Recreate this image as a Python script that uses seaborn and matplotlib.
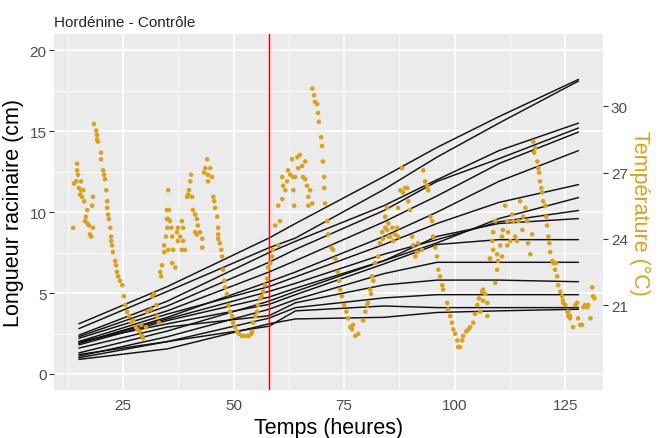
import pandas as pd
import matplotlib
matplotlib.use("Agg")
import matplotlib.pyplot as plt
import seaborn as sns

# root length measurements (cm), one row per plant, at the measurement times (h)
mesure_t = [15, 35, 58, 64, 84, 96, 110, 128]
longueurs = [
    [3.1, 5.4, 8.4, 9.3, 12.2, 14.0, 15.9, 18.2],
    [2.8, 5.1, 7.8, 8.4, 11.4, 13.4, 15.5, 18.1],
    [2.4, 4.5, 7.5, 8.2, 10.4, 12.0, 13.8, 15.5],
    [2.3, 4.2, 6.9, 7.7, 10.1, 11.9, 13.3, 15.2],
    [2.2, 3.9, 6.3, 7.0, 9.4, 11.0, 13.0, 14.95],
    [1.9, 3.5, 5.7, 6.3, 8.5, 10.0, 11.9, 13.8],
    [2.0, 3.7, 5.4, 6.0, 8.0, 9.3, 10.6, 11.7],
    [1.3, 2.65, 4.5, 5.1, 7.0, 8.1, 9.6, 10.9],
    [1.9, 3.4, 5.1, 5.6, 7.4, 8.3, 9.4, 10.1],
    [1.8, 3.3, 4.75, 5.3, 7.0, 8.5, 9.3, 9.6],
    [2.0, 3.1, 4.3, 4.9, 6.8, 8.0, 8.3, 8.3],
    [1.1, 2.3, 4.0, 4.6, 6.2, 6.9, 6.9, 6.9],
    [1.6, 2.9, 3.6, 4.4, 5.5, 5.8, 5.8, 5.7],
    [1.0, 2.0, 3.45, 4.1, 4.7, 4.9, 4.9, 4.9],
    [1.2, 2.0, 2.95, 3.9, 4.2, 4.1, 4.1, 4.1],
    [0.9, 1.55, 3.1, 3.4, 3.5, 3.8, 3.9, 4.0],
]

# temperature log (h, degC)
temp_h = [
    13.7, 13.9, 14.4, 14.6, 14.6, 14.8, 15.0, 15.3, 15.5, 15.5, 16.0, 15.7, 16.2, 16.6, 16.4, 16.9, 16.9, 17.3,
    17.5, 17.8, 18.0, 18.2, 18.2,
    18.4, 18.9, 19.1, 19.1, 19.3, 20.0, 20.0, 20.5, 20.7, 20.9, 21.2, 21.4, 21.4, 21.6, 21.8, 22.1, 22.3, 22.3,
    22.5, 22.7, 23.2, 23.4, 23.6, 23.9, 24.3, 24.8, 25.2, 25.5, 25.9, 26.4, 26.8, 27.3, 27.9, 28.2, 28.8, 29.3,
    29.5, 29.1, 30.2, 30.4, 31.3, 31.6, 32.0, 32.5, 32.7, 33.1, 33.6, 33.4, 33.8, 34.3, 34.3, 34.7, 34.9, 34.9,
    35.2,
    35.4, 35.2, 35.6, 35.0, 35.9, 36.1, 35.2, 36.1, 36.8, 36.3, 37.2, 37.4, 37.9, 37.4, 38.3, 38.6, 38.6, 39.0,
    38.3, 39.5, 39.7, 39.9, 40.2, 40.4, 40.6, 40.8, 41.3, 41.7, 41.9, 41.3, 41.7, 42.4, 42.9, 42.9, 43.3, 43.6,
    44.0, 44.2, 44.7, 44.2, 45.1,
    45.4, 45.6, 45.8, 46.3, 46.5, 46.5, 46.5, 46.9, 47.2, 47.4, 47.6, 47.9, 48.1, 48.5, 48.8, 49.2, 49.7, 49.9,
    50.3, 50.8, 51.2, 51.9, 52.4, 53.1, 53.5, 54.0, 54.2, 54.4, 54.9, 55.3, 55.5, 56.0, 56.4, 56.7, 57.1, 57.6,
    57.8, 58.3, 58.7, 58.9,
    60.1, 59.4, 60.5, 60.1, 61.0, 61.2, 61.7, 61.0, 62.1, 62.3, 62.8, 63.2, 63.5, 63.9, 63.5, 64.4, 64.6, 65.0,
    65.5, 65.7, 66.2, 66.2, 66.6, 66.9, 67.3, 66.9, 67.8, 63.7,
    67.8, 68.2, 68.4, 68.9, 69.1, 69.3, 69.8, 70.0, 70.2, 70.5, 70.5, 70.7, 71.2, 71.4, 72.1, 72.5, 73.0, 73.6,
    73.9, 74.1, 74.5, 75.0, 75.5, 75.9, 76.4, 77.0, 76.8, 77.5, 78.2,
    79.3, 79.8, 80.2, 80.4, 80.9, 81.1, 81.3, 81.6, 82.0, 82.7, 83.1, 83.6, 83.8, 84.3, 84.7, 85.0, 85.4, 85.9,
    86.1, 86.5, 87.0, 87.2, 84.3, 84.7, 85.0, 87.2, 87.7, 88.1, 88.3, 88.8, 89.3, 89.5, 89.9, 90.4, 90.6, 91.1,
    91.5, 91.7, 92.6, 92.9, 93.3, 93.8, 94.0, 94.5, 94.9, 95.1, 95.6, 96.0, 96.3, 96.7, 97.2,
    97.4, 98.3, 98.5, 99.0, 99.4, 99.7, 100.1, 100.6, 100.8, 101.2, 101.7, 101.9, 102.6, 103.1, 103.5, 104.2,
    104.6, 105.1, 105.5, 106.2, 106.4, 106.9, 107.4, 107.4, 105.8, 106.4, 108.0, 108.7,
    108.5, 108.0, 108.7, 109.2, 109.6, 109.8, 110.3, 110.7, 110.9, 111.4, 111.9, 112.1, 112.6, 113.0, 113.2,
    113.7, 114.1, 114.4, 114.8, 115.3, 115.5, 116.0, 116.4, 116.6, 117.1, 117.5, 111.9, 110.7, 109.2, 109.6,
    117.8, 118.2, 118.0, 118.7, 118.9, 119.1, 119.3, 119.6, 119.8, 120.0, 120.5, 120.7, 120.9, 121.2, 121.4,
    121.6, 122.1, 122.3, 122.7, 122.9, 123.2, 123.4, 123.9, 124.3, 124.5, 125.0, 125.5, 125.7, 126.1,
    124.5, 125.7, 126.1, 126.8, 127.3, 127.7, 127.9, 128.4, 128.8, 129.1, 129.5, 130.0, 130.2, 130.7, 131.1,
    131.3, 131.6,
]
temperature = [
    24.5, 26.5, 26.6, 27.4, 27.1, 26.9, 26.3, 26.0, 26.6, 26.2, 26.2, 25.9, 25.7, 25.0, 24.8, 25.3, 24.7, 24.6,
    24.2, 24.1, 25.5, 24.5, 25.9,
    29.2, 28.9, 28.7, 28.5, 28.4, 27.9, 27.6, 27.1, 26.9, 26.7, 26.2, 25.7, 25.4, 25.1, 24.9, 24.5, 24.1, 23.9,
    23.7, 23.4, 23.0, 22.8, 22.5, 22.3, 22.1, 21.9, 21.4, 21.0, 20.7, 20.5, 20.2, 20.3, 20.0, 19.9, 19.8, 19.6,
    19.5, 20.1, 20.0, 20.7, 20.8, 21.4, 21.5, 21.0, 20.5, 20.2, 22.3, 22.5, 22.8, 23.4, 23.7, 24.1, 24.9, 25.3,
    26.2,
    25.3, 24.9, 24.8, 24.5, 24.5, 24.1, 23.5, 22.9, 22.7, 23.5, 24.3, 24.5, 24.1, 23.9, 24.8, 24.5, 23.9, 23.5,
    23.5, 25.9, 26.0, 26.2, 26.6, 26.9, 25.9, 25.3, 25.1, 24.9, 24.6, 24.3, 24.2, 24.3, 24.0, 23.6, 27.0, 27.2,
    27.6, 26.9, 27.2, 26.6, 26.8,
    25.9, 25.7, 25.4, 25.0, 24.5, 24.2, 24.0, 23.8, 23.5, 23.2, 22.6, 22.1, 21.8, 21.5, 21.0, 20.7, 20.5, 20.2,
    20.0, 19.8, 19.7, 19.6, 19.6, 19.6, 19.6, 19.7, 19.8, 20.2, 20.5, 20.7, 21.0, 21.3, 21.4, 21.6, 21.9, 22.2,
    22.7, 22.9, 23.2, 23.5,
    23.7, 24.6, 24.8, 25.5, 25.8, 26.4, 26.2, 26.8, 26.6, 27.1, 26.9, 27.6, 26.8, 26.8, 26.2, 27.7, 27.2, 27.8,
    27.3, 26.8, 27.5, 26.7, 26.4, 25.9, 26.2, 25.5, 25.6, 25.5,
    30.8, 30.5, 30.2, 30.1, 29.7, 29.3, 28.6, 28.2, 27.5, 26.8, 26.3, 25.6, 24.8, 24.2, 23.6, 23.5, 23.1, 22.5,
    22.1, 21.7, 21.4, 21.0, 20.7, 20.4, 20.0, 20.1, 19.9, 19.6, 19.7,
    20.3, 20.7, 21.0, 21.1, 21.7, 21.5, 22.3, 22.1, 22.9, 23.2, 23.8, 24.3, 24.0, 24.5, 24.4, 24.1, 24.1, 24.5,
    23.9, 24.2, 24.5, 24.1, 25.0, 25.4, 24.7, 25.4, 26.2, 27.2, 26.1, 26.3, 26.3, 25.7, 25.3, 24.1, 23.7, 23.2,
    23.4, 23.8, 23.5, 27.1, 26.6, 26.4, 26.2, 25.0, 24.8, 24.1, 23.6, 23.2, 22.6, 22.3, 21.9,
    21.7, 21.1, 20.8, 20.5, 20.2, 19.9, 19.7, 19.4, 19.1, 19.1, 19.4, 19.6, 19.8, 19.9, 20.0, 20.2,
    20.6, 21.0, 21.3, 21.6, 21.7, 21.5, 21.1, 20.5, 20.7, 21.2, 23.1, 23.5,
    23.9, 23.1, 24.3, 24.8, 23.3, 23.0, 23.7, 24.1, 24.4, 25.5, 24.8, 24.3, 23.9, 25.1, 24.8,
    24.1, 23.9, 24.8, 25.7, 24.4, 25.0, 25.4, 24.8, 23.8, 23.3, 24.2, 23.7, 23.2, 22.0, 22.6,
    28.4, 28.1, 27.9, 27.5, 27.2, 27.0, 26.6, 26.3, 26.1, 25.7, 25.5, 25.0, 24.6, 24.1, 23.8,
    23.4, 23.0, 22.9, 22.6, 22.9, 22.3, 21.9, 21.6, 21.4, 21.2, 21.0, 20.7, 20.5, 20.5,
    21.1, 20.7, 20.4, 20.0, 21.0, 21.1, 20.4, 20.1, 20.1, 20.9, 21.0, 20.9, 21.0, 20.4, 21.8,
    21.4, 21.3,
]

debut_traitement = 58

rows = []
for i, vals in enumerate(longueurs):
    for t, v in zip(mesure_t, vals):
        rows.append({"plante": i, "temps": t, "longueur": v})
df_lines = pd.DataFrame(rows)
df_temp = pd.DataFrame({"temps": temp_h, "temperature": temperature})

sns.set_theme(style="darkgrid")
plt.rcParams["font.family"] = ["Liberation Sans", "DejaVu Sans"]

gold = "#DAA11F"
grey_txt = "#4D4D4D"

fig = plt.figure(figsize=(6.6, 4.39), dpi=100)
ax = fig.add_axes([0.082, 0.109, 0.832, 0.811])
ax.set_facecolor("#EBEBEB")

sns.lineplot(data=df_lines, x="temps", y="longueur", units="plante", estimator=None,
             color="#111111", linewidth=1.05, ax=ax, legend=False)
ax.axvline(debut_traitement, color="red", linewidth=1.0)

ax.set_xlim(9.4, 133.6)
ax.set_ylim(-1, 21)
ax.set_xticks([25, 50, 75, 100, 125])
ax.set_yticks([0, 5, 10, 15, 20])
ax.set_xticks([12.5, 37.5, 62.5, 87.5, 112.5], minor=True)
ax.set_yticks([2.5, 7.5, 12.5, 17.5], minor=True)
ax.grid(which="major", color="white", linewidth=1.1)
ax.grid(which="minor", color="white", linewidth=0.55)
for s in ax.spines.values():
    s.set_visible(False)
ax.tick_params(which="major", length=3.5, width=0.8, color="#333333",
               labelcolor=grey_txt, labelsize=11, pad=2)
ax.tick_params(which="minor", length=0)
ax.set_xlabel("Temps (heures)", fontsize=15.5, color="black", labelpad=4)
ax.set_ylabel("Longueur racinaire (cm)", fontsize=15.5, color="black", labelpad=4)
ax.set_title("Hordénine - Contrôle", loc="left", fontsize=11, pad=6)

# secondary temperature axis, aligned with the length scale
def to_temp(l):
    return 17.88 + l / 1.3647

ax2 = ax.twinx()
sns.scatterplot(data=df_temp, x="temps", y="temperature", color=gold, s=11,
                edgecolor="none", ax=ax2, legend=False)
ax2.set_ylim(to_temp(-1), to_temp(21))
ax2.set_yticks([21, 24, 27, 30])
ax2.grid(False)
for s in ax2.spines.values():
    s.set_visible(False)
ax2.tick_params(length=3.5, width=0.8, color="#333333", labelcolor=grey_txt,
                labelsize=11, pad=2)
ax2.set_ylabel("Température (°C)", fontsize=15.5, color=gold, rotation=270, labelpad=16)
ax2.set_xlim(9.4, 133.6)

fig.savefig("out.png", dpi=100)
